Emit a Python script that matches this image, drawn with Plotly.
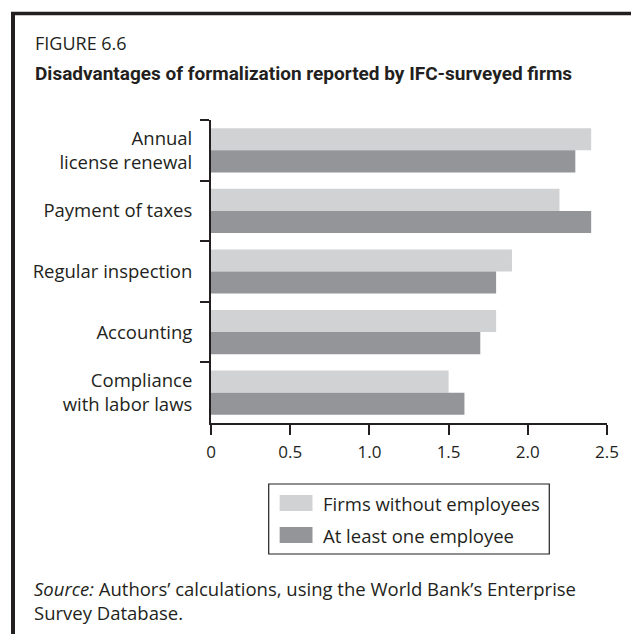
import plotly.graph_objects as go

# Survey results: average reported disadvantage score by obligation
categories = [
    "Annual<br>license renewal",
    "Payment of taxes",
    "Regular inspection",
    "Accounting",
    "Compliance<br>with labor laws",
]
no_employees = [2.4, 2.2, 1.9, 1.8, 1.5]
with_employees = [2.3, 2.4, 1.8, 1.7, 1.6]
series_names = ["Firms without employees", "At least one employee"]
series_colors = ["#d1d2d4", "#939598"]
x_ticks = [0, 0.5, 1.0, 1.5, 2.0, 2.5]
x_tick_text = ["0", "0.5", "1.0", "1.5", "2.0", "2.5"]

INK = "#231f20"
FONT = "Open Sans, Noto Sans, DejaVu Sans, sans-serif"

W, H = 631, 634
L, R, T, B = 211, 609, 120, 423  # plot area in pixels


def px(x):
    return (x - L) / (R - L)


def py(y):
    return (B - y) / (B - T)


fig = go.Figure()
for name, vals, col in zip(series_names, [no_employees, with_employees], series_colors):
    fig.add_trace(go.Bar(
        y=categories, x=vals, name=name, orientation="h",
        marker=dict(color=col, line=dict(width=0)),
        showlegend=False,
    ))

shapes = [
    # frame: top and left rules
    dict(type="line", xref="paper", yref="paper", x0=px(10), x1=px(W + 5), y0=py(13.5), y1=py(13.5),
         line=dict(color=INK, width=3.5)),
    dict(type="line", xref="paper", yref="paper", x0=px(12), x1=px(12), y0=py(12), y1=py(H + 5),
         line=dict(color=INK, width=4)),
    # legend box
    dict(type="rect", xref="paper", yref="paper", x0=px(269), x1=px(551), y0=py(484), y1=py(554),
         line=dict(color=INK, width=1.2), fillcolor="white"),
]
annotations = []
for i, (name, col) in enumerate(zip(series_names, series_colors)):
    yc = 503 + 32 * i
    shapes.append(dict(type="rect", xref="paper", yref="paper", x0=px(280), x1=px(313),
                       y0=py(yc - 8), y1=py(yc + 8), line=dict(width=0), fillcolor=col))
    annotations.append(dict(xref="paper", yref="paper", x=px(322), y=py(yc), text=name,
                            showarrow=False, xanchor="left", yanchor="middle",
                            font=dict(family=FONT, size=18.5, color=INK)))

annotations += [
    dict(xref="paper", yref="paper", x=px(32), y=py(43), text="FIGURE 6.6", showarrow=False,
         xanchor="left", yanchor="middle", font=dict(family=FONT, size=18, color=INK)),
    dict(xref="paper", yref="paper", x=px(32), y=py(73),
         text="<b>Disadvantages of formalization reported by IFC-surveyed firms</b>",
         showarrow=False, xanchor="left", yanchor="middle",
         font=dict(family="Roboto, Liberation Sans, sans-serif", size=19, color=INK)),
    dict(xref="paper", yref="paper", x=px(31), y=py(600),
         text="<i>Source:</i> Authors’ calculations, using the World Bank’s Enterprise<br>Survey Database.",
         showarrow=False, xanchor="left", yanchor="middle", align="left",
         font=dict(family=FONT, size=18.5, color=INK)),
]

fig.update_layout(
    width=W, height=H,
    margin=dict(l=L, r=W - R, t=T, b=H - B, pad=0),
    paper_bgcolor="white", plot_bgcolor="white",
    barmode="group", bargap=0.27, bargroupgap=0,
    font=dict(family=FONT, size=18, color=INK),
    shapes=shapes, annotations=annotations,
    xaxis=dict(range=[0, 2.5], tickvals=x_ticks, ticktext=x_tick_text,
               ticks="outside", ticklen=10, tickwidth=2, tickcolor=INK,
               showline=True, linecolor=INK, linewidth=2, showgrid=False,
               zeroline=False, fixedrange=True, ticklabelstandoff=3,
               tickfont=dict(size=17, color=INK)),
    yaxis=dict(autorange="reversed", ticks="outside", tickson="boundaries",
               ticklen=9, tickwidth=2, tickcolor=INK,
               showline=True, linecolor=INK, linewidth=2, showgrid=False,
               ticklabelstandoff=13,
               tickfont=dict(size=18.5, color=INK), fixedrange=True),
)

fig.write_html("out.html")
